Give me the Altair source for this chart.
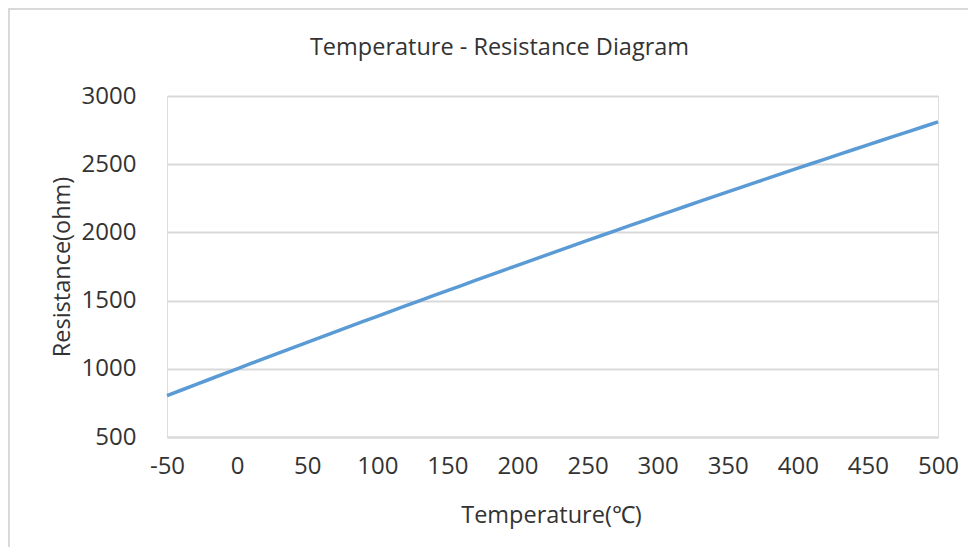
import altair as alt
import pandas as pd

temperature_c = [-50, -40, -30, -20, -10, 0, 10, 20, 30, 40, 50, 60, 70, 80, 90,
                 100, 110, 120, 130, 140, 150, 160, 170, 180, 190, 200, 210, 220,
                 230, 240, 250, 260, 270, 280, 290, 300, 310, 320, 330, 340, 350,
                 360, 370, 380, 390, 400, 410, 420, 430, 440, 450, 460, 470, 480,
                 490, 500]
resistance_ohm = [803.1, 842.7, 882.2, 921.6, 960.9, 1000.0, 1039.0, 1077.9, 1116.7,
                  1155.4, 1194.0, 1232.4, 1270.8, 1309.0, 1347.1, 1385.1, 1422.9,
                  1460.7, 1498.3, 1535.8, 1573.3, 1610.5, 1647.7, 1684.8, 1721.7,
                  1758.6, 1795.3, 1831.9, 1868.4, 1904.7, 1941.0, 1977.1, 2013.1,
                  2049.0, 2084.8, 2120.5, 2156.1, 2191.5, 2226.8, 2262.1, 2297.2,
                  2332.1, 2367.0, 2401.8, 2436.4, 2470.9, 2505.3, 2539.6, 2573.8,
                  2607.8, 2641.8, 2675.6, 2709.3, 2742.9, 2776.4, 2809.8]
x_ticks = [-50, 0, 50, 100, 150, 200, 250, 300, 350, 400, 450, 500]
y_ticks = [500, 1000, 1500, 2000, 2500, 3000]

FONT = "Open Sans"
TEXT = "#333333"
GRID = "#d9d9d9"

df = pd.DataFrame({"t": temperature_c, "r": resistance_ohm})

line = alt.Chart(df).mark_line(color="#5b9bd5", strokeWidth=3.5).encode(
    x=alt.X(
        "t:Q",
        scale=alt.Scale(domain=[-50, 500], nice=False, zero=False),
        axis=alt.Axis(
            values=x_ticks, title="Temperature(℃)", grid=False, ticks=False,
            domainColor=GRID, domainWidth=2, labelPadding=17,
            labelExpr="'' + datum.value", labelFlush=False, labelOverlap=False,
            labelFont=FONT, labelFontSize=24, labelColor=TEXT,
            titleFont=FONT, titleFontSize=23.5, titleFontWeight="normal", titleColor=TEXT,
            titleX=384, titleY=78, titleBaseline="middle", titleAlign="center",
        ),
    ),
    y=alt.Y(
        "r:Q",
        scale=alt.Scale(domain=[500, 3000], nice=False, zero=False),
        axis=alt.Axis(
            values=y_ticks, title="Resistance(ohm)", domain=False, ticks=False,
            gridColor=GRID, gridWidth=2, labelPadding=31,
            labelExpr="'' + datum.value", labelFlush=False, labelOverlap=False,
            labelFont=FONT, labelFontSize=24, labelColor=TEXT,
            titleFont=FONT, titleFontSize=23.5, titleFontWeight="normal", titleColor=TEXT,
            titleX=-105, titleY=170.5, titleAngle=-90,
            titleBaseline="middle", titleAlign="center",
        ),
    ),
)

frame = pd.DataFrame({"k": [0]})
left_border = alt.Chart(frame).mark_rule(color=GRID, strokeWidth=2).encode(
    x=alt.value(-158), y=alt.value(-88), y2=alt.value(460)
)
top_border = alt.Chart(frame).mark_rule(color=GRID, strokeWidth=2).encode(
    x=alt.value(-159), x2=alt.value(810), y=alt.value(-87)
)

chart = alt.layer(left_border, top_border, line).properties(
    width=771,
    height=341,
    title=alt.TitleParams(
        "Temperature - Resistance Diagram", font=FONT, fontSize=23.5,
        fontWeight="normal", color=TEXT, anchor="middle", dx=-53,
        baseline="middle", offset=0, dy=64,
    ),
    autosize=alt.AutoSizeParams(type="none"),
    padding={"left": 159, "top": 88, "right": 30, "bottom": 110},
).configure_view(stroke=None).configure(background="white")

chart.save("out.html", embed_options={"renderer": "svg", "actions": False})
